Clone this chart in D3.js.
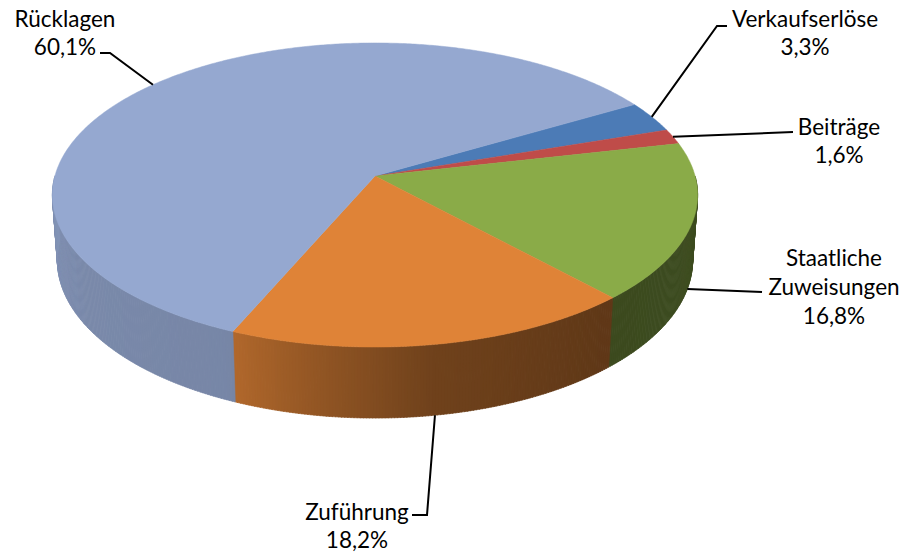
<!DOCTYPE html>
<html>
<head>
<meta charset="utf-8">
<script src="https://cdn.jsdelivr.net/npm/d3@7"></script>
<style>
  html, body { margin: 0; padding: 0; background: #ffffff; }
  svg { display: block; }
  text { font-family: Lato, "Open Sans", sans-serif; font-size: 22.5px; fill: #000; }
</style>
</head>
<body>
<svg id="chart" width="903" height="552"></svg>
<script>
// ---- data ----
const categories = ["Verkaufserlöse", "Beiträge", "Staatliche Zuweisungen", "Zuführung", "Rücklagen"];
const values = [3.3, 1.6, 16.8, 18.2, 60.1];
const valueLabels = ["3,3%", "1,6%", "16,8%", "18,2%", "60,1%"];
const labelLines = [["Verkaufserlöse"], ["Beiträge"], ["Staatliche", "Zuweisungen"], ["Zuführung"], ["Rücklagen"]];

// ---- style / layout ----
const topColors = ["#4c7bb6", "#bf4c49", "#8aab48", "#df8337", "#95a8d0"];
const W = 903, H = 552;
const cx = 375, cy = 176;       // projected pie centre
const f = 2263, D = 7.07;       // focal length & camera distance (radius = 1)
const sPhi = 0.4676, cPhi = 0.884; // camera elevation
const depth = 0.2327;           // thickness of the pie (radius = 1)
const rotation = 59.5 * Math.PI / 180;

// label layout: centre x, first baseline, line step, leader polyline start points
const labelLayout = [
  { x: 805, y: 27, step: 28, leader: [[727, 26], [717, 26]] },
  { x: 839, y: 135, step: 28, leader: [[793, 132]] },
  { x: 834, y: 266, step: 29, leader: [[762, 292]] },
  { x: 357, y: 520, step: 28, leader: [[412, 515], [427, 515]] },
  { x: 65, y: 27, step: 28, leader: [[100, 53], [110, 53]] }
];

function project(a, Y) {
  const X = Math.sin(a), Z = -Math.cos(a);
  const yc = Y * cPhi - Z * sPhi;
  const zc = D - Z * cPhi - Y * sPhi;
  return [cx + f * X / zc, cy - f * yc / zc];
}

// side-wall brightness as function of angle (degrees)
const shade = d3.scaleLinear()
  .domain([90, 140, 171, 192, 204, 240, 270])
  .range([0.46, 0.43, 0.5, 0.68, 0.8, 0.82, 0.88])
  .clamp(true);

function shadeColor(col, k) {
  const c = d3.rgb(col);
  return d3.rgb(c.r * k, c.g * k, c.b * k).formatHex();
}

const svg = d3.select("#chart");
const pie = d3.pie().sort(null).value(d => d).startAngle(rotation).endAngle(rotation + 2 * Math.PI);
const arcs = pie(values);

const gWalls = svg.append("g");
const gTops = svg.append("g");
const gLabels = svg.append("g");

const line = d3.line();
const step = 0.5 * Math.PI / 180;
const lo = Math.PI / 2, hi = 3 * Math.PI / 2;

// walls (front half only)
arcs.forEach((d, i) => {
  [0, 2 * Math.PI].forEach(off => {
    const a0 = Math.max(d.startAngle - off, lo);
    const a1 = Math.min(d.endAngle - off, hi);
    if (a1 <= a0) return;
    const n = Math.max(1, Math.ceil((a1 - a0) / step));
    for (let j = 0; j < n; j++) {
      const b0 = a0 + (a1 - a0) * j / n;
      const b1 = a0 + (a1 - a0) * (j + 1) / n;
      const deg = (b0 + b1) / 2 * 180 / Math.PI;
      const col = shadeColor(topColors[i], shade(deg));
      const pts = [project(b0, 0), project(b1 + 0.002, 0), project(b1 + 0.002, -depth), project(b0, -depth)];
      gWalls.append("path")
        .attr("d", line(pts) + "Z")
        .attr("fill", col)
        .attr("stroke", col)
        .attr("stroke-width", 0.6);
    }
  });
});

// top faces
arcs.forEach((d, i) => {
  const n = Math.max(2, Math.ceil((d.endAngle - d.startAngle) / step));
  const pts = [[cx, cy]];
  for (let j = 0; j <= n; j++) {
    pts.push(project(d.startAngle + (d.endAngle - d.startAngle) * j / n, 0));
  }
  gTops.append("path")
    .attr("d", line(pts) + "Z")
    .attr("fill", topColors[i])
    .attr("stroke", topColors[i])
    .attr("stroke-width", 0.5);
});

// labels and leader lines
arcs.forEach((d, i) => {
  const mid = (d.startAngle + d.endAngle) / 2;
  const m = ((mid % (2 * Math.PI)) + 2 * Math.PI) % (2 * Math.PI);
  const front = m > lo && m < hi;
  const anchor = project(mid, front ? -depth : 0);
  const L = labelLayout[i];
  gLabels.append("path")
    .attr("d", line(L.leader.concat([anchor])))
    .attr("fill", "none")
    .attr("stroke", "#000")
    .attr("stroke-width", 2);
  const lines = labelLines[i].concat([valueLabels[i]]);
  const t = gLabels.append("text").attr("text-anchor", "middle");
  lines.forEach((s, k) => {
    t.append("tspan").attr("x", L.x).attr("y", L.y + k * L.step).text(s);
  });
});
</script>
</body>
</html>
